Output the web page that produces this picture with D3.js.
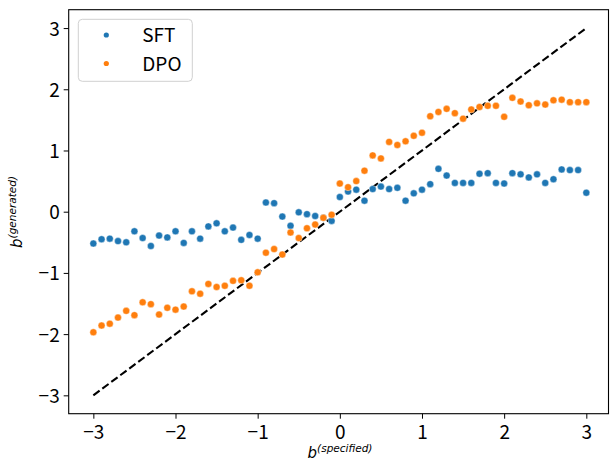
<!DOCTYPE html>
<html>
<head>
<meta charset="utf-8">
<script src="https://cdn.jsdelivr.net/npm/d3@7/dist/d3.min.js"></script>
<style>
html,body{margin:0;padding:0;background:#fff;}
svg{display:block;}
</style>
</head>
<body>
<svg id="chart" width="610" height="461"></svg>
<script>
const specified = [-3.0,-2.9,-2.8,-2.7,-2.6,-2.5,-2.4,-2.3,-2.2,-2.1,-2.0,-1.9,-1.8,-1.7,-1.6,-1.5,-1.4,-1.3,-1.2,-1.1,-1.0,
  -0.9,-0.8,-0.7,-0.6,-0.5,-0.4,-0.3,-0.2,-0.1,0.0,0.1,0.2,0.3,0.4,0.5,0.6,0.7,0.8,0.9,1.0,
  1.1,1.2,1.3,1.4,1.5,1.6,1.7,1.8,1.9,2.0,2.1,2.2,2.3,2.4,2.5,2.6,2.7,2.8,2.9,3.0];
const sftValues = [-0.52,-0.45,-0.44,-0.48,-0.50,-0.32,-0.43,-0.56,-0.39,-0.42,-0.32,
  -0.51,-0.32,-0.44,-0.24,-0.19,-0.32,-0.26,-0.46,-0.38,-0.44,
  0.15,0.14,-0.08,-0.23,-0.01,-0.04,-0.07,-0.10,-0.15,0.24,
  0.33,0.36,0.18,0.37,0.41,0.37,0.39,0.18,0.30,0.36,
  0.45,0.70,0.59,0.47,0.47,0.47,0.62,0.63,0.47,0.46,
  0.63,0.61,0.56,0.61,0.47,0.53,0.69,0.68,0.68,0.31];
const dpoValues = [-1.97,-1.86,-1.83,-1.73,-1.62,-1.69,-1.48,-1.51,-1.68,-1.57,-1.60,
  -1.55,-1.30,-1.34,-1.18,-1.23,-1.21,-1.13,-1.12,-1.21,-0.99,
  -0.67,-0.61,-0.70,-0.34,-0.43,-0.27,-0.21,-0.10,-0.05,0.46,
  0.40,0.50,0.67,0.92,0.87,1.14,1.09,1.15,1.24,1.29,
  1.56,1.63,1.68,1.61,1.52,1.67,1.71,1.73,1.73,1.55,
  1.86,1.80,1.74,1.77,1.75,1.82,1.83,1.79,1.79,1.79];
const seriesNames = ["SFT","DPO"];
const seriesColors = ["#1f77b4","#ff7f0e"];
const xTicks = [-3,-2,-1,0,1,2,3];
const yTicks = [-3,-2,-1,0,1,2,3];
const refLine = [-3,3];

(function(){
const pL = 68.7, pR = 608.5, pT = 9.7, pB = 413.7;
const svg = d3.select("#chart");
const x = d3.scaleLinear().domain([-3.3, 3.27]).range([pL, pR]);
const y = d3.scaleLinear().domain([-3.3, 3.3]).range([pB, pT]);
const fmt = d => d < 0 ? "\u2212" + Math.abs(d) : String(d);
const tickFont = "'Noto Sans CJK JP','Noto Sans',sans-serif";

// reference dashed line
svg.append("line")
  .attr("x1", x(refLine[0])).attr("y1", y(refLine[0]))
  .attr("x2", x(refLine[1])).attr("y2", y(refLine[1]))
  .attr("stroke", "#000").attr("stroke-width", 2.1)
  .attr("stroke-dasharray", "7.8,3.4");

// scatter
const series = [sftValues, dpoValues];
series.forEach((vals, si) => {
  svg.append("g").selectAll("circle").data(vals).join("circle")
    .attr("cx", (d, i) => x(specified[i]))
    .attr("cy", d => y(d))
    .attr("r", 3.5)
    .attr("fill", seriesColors[si])
    .attr("stroke", "#fff").attr("stroke-width", 0.4);
});

// axes
const xAxis = d3.axisBottom(x).tickValues(xTicks).tickFormat(fmt).tickSizeOuter(0).tickSize(5).tickPadding(6);
const yAxis = d3.axisLeft(y).tickValues(yTicks).tickFormat(fmt).tickSizeOuter(0).tickSize(5).tickPadding(6);
const gx = svg.append("g").attr("transform", `translate(0,${pB})`).call(xAxis);
const gy = svg.append("g").attr("transform", `translate(${pL},0)`).call(yAxis);
[gx, gy].forEach(g => {
  g.select(".domain").remove();
  g.selectAll(".tick line").attr("stroke", "#000").attr("stroke-width", 1);
  g.selectAll(".tick text").attr("fill", "#000").style("font-family", tickFont).style("font-size", "19px");
});
gx.selectAll(".tick text").attr("dy", null).attr("y", 25);
gy.selectAll(".tick text").attr("dy", null).attr("y", 7).attr("x", -9);

// frame
svg.append("rect").attr("x", pL).attr("y", pT)
  .attr("width", pR - pL).attr("height", pB - pT)
  .attr("fill", "none").attr("stroke", "#000").attr("stroke-width", 1.1);

// axis labels
const xl = svg.append("text").attr("x", 340).attr("y", 457.5).attr("text-anchor", "middle")
  .style("font-family", "'DejaVu Sans',sans-serif").style("font-style", "italic").attr("fill", "#000");
xl.append("tspan").style("font-size", "15px").text("b");
xl.append("tspan").style("font-size", "10.5px").attr("dy", -6).text("(specified)");

const yl = svg.append("text").attr("transform", "translate(22,212) rotate(-90)").attr("text-anchor", "middle")
  .style("font-family", "'DejaVu Sans',sans-serif").style("font-style", "italic").attr("fill", "#000");
yl.append("tspan").style("font-size", "15px").text("b");
yl.append("tspan").style("font-size", "10.5px").attr("dy", -6).text("(generated)");

// legend
const lg = svg.append("g");
lg.append("rect").attr("x", 78.3).attr("y", 19.3).attr("width", 114).attr("height", 62).attr("rx", 4)
  .attr("fill", "#fff").attr("fill-opacity", 0.8).attr("stroke", "#d0d0d0").attr("stroke-width", 1);
seriesNames.forEach((name, i) => {
  const cy = 35 + i * 28.5;
  lg.append("circle").attr("cx", 106.3).attr("cy", cy).attr("r", 2.6).attr("fill", seriesColors[i]);
  lg.append("text").attr("x", 142.3).attr("y", cy + 7).attr("fill", "#000")
    .style("font-family", tickFont).style("font-size", "19px").text(name);
});
})();
</script>
</body>
</html>
